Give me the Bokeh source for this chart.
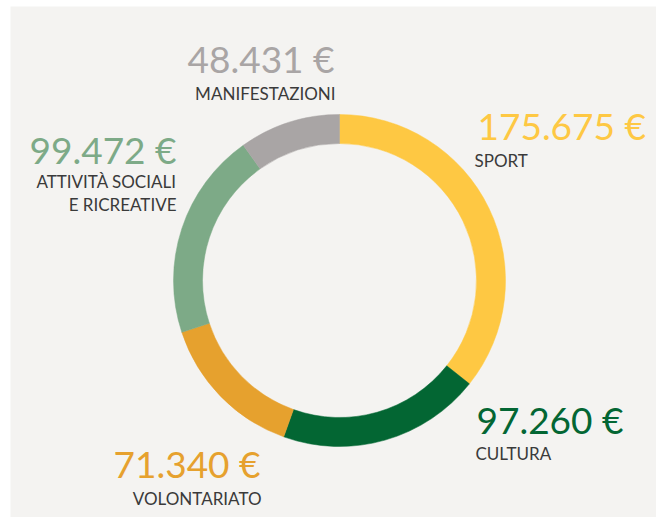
import math
from bokeh.plotting import figure
from bokeh.models import Range1d, ColumnDataSource
from bokeh.core.properties import value
from bokeh.embed import file_html
from bokeh.resources import INLINE

# ---- data ----
categories = ["SPORT", "CULTURA", "VOLONTARIATO", "ATTIVITÀ SOCIALI\nE RICREATIVE", "MANIFESTAZIONI"]
amounts = [175675, 97260, 71340, 99472, 48431]
colors = ["#FEC843", "#036633", "#E6A12E", "#7DAA87", "#A9A5A5"]

# ---- layout (page pixel anchors for text, converted to data coords) ----
W, H = 656, 517
PAGE_H = 517
def py(y):
    return PAGE_H - y

VALUE_SIZE, LABEL_SIZE = 37, 17
# baseline correction for renderer (fraction of font size)
BASE_FIX = 0.38

# value anchor (x, baseline y, align), label anchor (x, first baseline y)
value_pos = [(477, 139, "left"), (476, 433, "left"), (260, 477, "right"), (176, 163, "right"), (334, 72, "right")]
label_pos = [(474, 166), (475, 459), (261, 504), (176, 187), (335, 99)]
label_gap = 23

cx, cy = 339, py(280)
r_in, r_out = 137, 166

p = figure(width=W, height=H, output_backend="svg", toolbar_location=None,
           x_range=Range1d(10, 656), y_range=Range1d(py(517), py(6)),
           min_border_left=10, min_border_right=0, min_border_top=6, min_border_bottom=0)
p.axis.visible = False
p.grid.visible = False
p.outline_line_color = None
p.background_fill_color = "#F4F3F1"
p.border_fill_color = "#FFFFFF"

total = sum(amounts)
starts, ends = [], []
acc = 0
for a in amounts:
    starts.append(math.pi / 2 - 2 * math.pi * acc / total)
    acc += a
    ends.append(math.pi / 2 - 2 * math.pi * acc / total)

src = ColumnDataSource(dict(start=starts, end=ends, color=colors))
p.annular_wedge(x=cx, y=cy, inner_radius=r_in, outer_radius=r_out,
                start_angle="start", end_angle="end", direction="clock",
                color="color", line_color="color", line_width=0.5, source=src)

FONT = value("Lato")
for cat, amt, col, (vx, vy, al), (lx, ly) in zip(categories, amounts, colors, value_pos, label_pos):
    txt = f"{amt:,}".replace(",", ".") + " €"
    p.text(x=[vx], y=[py(vy - BASE_FIX * VALUE_SIZE)], text=[txt], text_color=col, text_font=FONT,
           text_font_size=f"{VALUE_SIZE}px", text_align=al, text_baseline="alphabetic")
    for i, line in enumerate(cat.split("\n")):
        p.text(x=[lx], y=[py(ly + i * label_gap - BASE_FIX * LABEL_SIZE)], text=[line],
               text_color="#3A3A3A", text_font=FONT, text_font_size=f"{LABEL_SIZE}px",
               text_align=al, text_baseline="alphabetic")

open("out.html", "w").write(file_html(p, INLINE))
